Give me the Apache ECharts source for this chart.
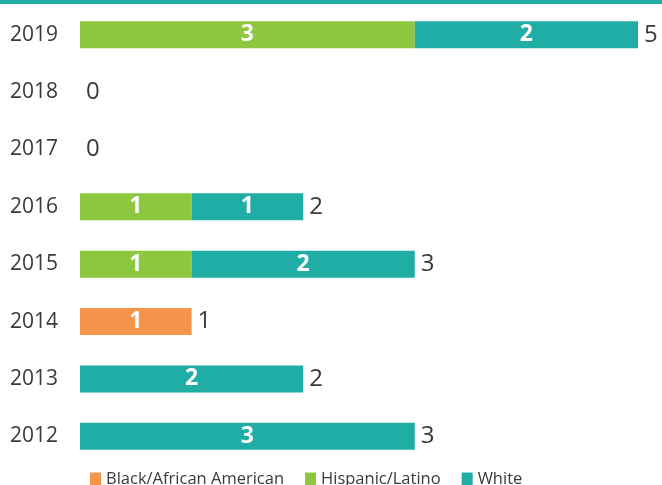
<!DOCTYPE html>
<html>
<head>
<meta charset="utf-8">
<script src="https://cdn.jsdelivr.net/npm/echarts@6/dist/echarts.min.js"></script>
<style>
    html, body { margin: 0; padding: 0; background: #fff; }
    #main { width: 662px; height: 485px; }
</style>
</head>
<body>
<div id="main"></div>
<script>
// data, bottom row first
var years = ['2012', '2013', '2014', '2015', '2016', '2017', '2018', '2019'];
var black = [0, 0, 1, 0, 0, 0, 0, 0];
var hispanic = [0, 0, 0, 1, 1, 0, 0, 3];
var white = [3, 2, 0, 2, 1, 0, 0, 2];
var totals = [3, 2, 1, 3, 2, 0, 0, 5];

var font = '"Open Sans", "DejaVu Sans", sans-serif';

function inner(p) {
    return p.value > 0 ? p.value : '';
}

function part(name, data, color) {
    return {
        name: name,
        type: 'bar',
        stack: 'all',
        barWidth: 27,
        data: data,
        itemStyle: { color: color },
        label: {
            show: true,
            position: 'inside',
            formatter: inner,
            color: '#fff',
            fontSize: 23,
            fontWeight: 'bold',
            fontFamily: font
        }
    };
}

var chart = echarts.init(document.getElementById('main'));

chart.setOption({
    animation: false,
    grid: { left: 80, width: 558, top: 6, height: 459 },
    xAxis: {
        type: 'value',
        min: 0,
        max: 5,
        show: false
    },
    yAxis: {
        type: 'category',
        data: years,
        axisLine: { show: false },
        axisTick: { show: false },
        axisLabel: {
            margin: 22,
            color: '#3a3a3a',
            fontSize: 21,
            fontFamily: font
        }
    },
    legend: {
        top: 466,
        left: 85,
        itemWidth: 11,
        itemHeight: 14,
        itemGap: 21,
        icon: 'rect',
        data: ['Black/African American', 'Hispanic/Latino', 'White'],
        textStyle: { color: '#3a3a3a', fontSize: 16.5, fontFamily: font }
    },
    graphic: [{
        type: 'rect',
        shape: { x: 0, y: 0, width: 662, height: 4 },
        style: { fill: '#1fada5' }
    }],
    series: [
        part('Black/African American', black, '#f4954b'),
        part('Hispanic/Latino', hispanic, '#8dc63f'),
        part('White', white, '#1fada5'),
        {
            name: 'total',
            type: 'bar',
            stack: 'all',
            barWidth: 27,
            data: years.map(function () { return 0; }),
            itemStyle: { color: 'transparent' },
            label: {
                show: true,
                position: 'right',
                distance: 6,
                formatter: function (p) { return totals[p.dataIndex]; },
                color: '#3a3a3a',
                fontSize: 24,
                fontFamily: font
            }
        }
    ]
});
</script>
</body>
</html>
